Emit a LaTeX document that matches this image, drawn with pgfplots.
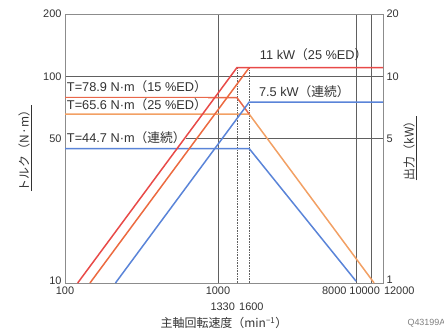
\documentclass[border=0pt]{standalone}
\usepackage{pgfplots}
\pgfplotsset{compat=1.18}
\usepackage{fontspec}
\setmainfont{Liberation Sans}
\newfontfamily\cjk{Noto Sans CJK JP}
\definecolor{redA}{HTML}{E84A48}
\definecolor{redB}{HTML}{EC6A40}
\definecolor{torA}{HTML}{E9684A}
\definecolor{torB}{HTML}{F2A064}
\definecolor{blueA}{HTML}{5A84D8}
\definecolor{txt}{HTML}{333333}
\definecolor{gridc}{HTML}{606060}
\definecolor{framec}{HTML}{8C8C8C}
\newcommand{\lp}{{\cjk （}}
\newcommand{\rp}{{\cjk ）}}
\begin{document}
\begin{tikzpicture}[x=1bp,y=1bp]
\useasboundingbox (0,0) rectangle (444,332);
\begin{axis}[
  at={(65bp,49bp)}, anchor=south west,
  scale only axis, width=318bp, height=269bp,
  xmode=log, ymode=log,
  xmin=100, xmax=12000, ymin=10, ymax=200,
  axis line style={draw=framec, line width=0.6bp},
  xtick={100,1000,8000,10000,12000},
  xticklabels={100,1000,{\llap{8000\hspace{9.6bp}}},{\llap{10000\hspace{-9bp}}},{\rlap{\hspace{1bp}12000}}},
  ytick={10,50,100,200},
  yticklabels={{\raisebox{4bp}{10}},50,100,200},
  major tick length=0, minor tick length=0,
  extra x ticks={1330,1600},
  extra x tick labels={{\llap{1330\hspace{2bp}}},{\rlap{\hspace{-10bp}1600}}},
  extra x tick style={xticklabel style={yshift=-16bp}, grid=none},
  grid=major,
  major grid style={draw=gridc, line width=0.5bp},
  tick label style={font=\fontsize{11}{12}\selectfont, text=txt},
  xlabel={主軸回転速度\lp min\textsuperscript{−1}\rp},
  xlabel style={font=\cjk\fontsize{12}{14}\selectfont, text=txt, at={(rel axis cs:0.5,0)}, anchor=center, yshift=-40bp},
  clip=true,
]
% dotted reference lines
\addplot[draw=gridc, line width=0.6bp, densely dotted] coordinates {(1330,10) (1330,110)};
\addplot[draw=gridc, line width=0.6bp, densely dotted] coordinates {(1600,10) (1600,110)};
% torque curves
\addplot[draw=blueA, line width=1.5bp] coordinates {(100,44.7) (1600,44.7) (8000,10.2)};
\addplot[draw=torB, line width=1.5bp] coordinates {(100,65.6) (1600,65.6) (10496,10)};
\addplot[draw=torA, line width=1.5bp] coordinates {(100,78.9) (1330,78.9) (1600,65.6)};
% labels
\node[anchor=west, fill=white, inner sep=0.8bp, text=txt, font=\fontsize{12.8}{14}\selectfont] at (rel axis cs:0.003,0.729) {T=78.9 N·m\lp 15 \%ED\rp};
\node[anchor=west, fill=white, inner sep=0.8bp, text=txt, font=\fontsize{12.8}{14}\selectfont] at (rel axis cs:0.003,0.662) {T=65.6 N·m\lp 25 \%ED\rp};
\node[anchor=west, fill=white, inner sep=0.8bp, text=txt, font=\fontsize{12.8}{14}\selectfont] at (rel axis cs:0.003,0.539) {T=44.7 N·m\lp{\cjk 連続}\rp};
\node[anchor=west, inner sep=0.8bp, text=txt, font=\fontsize{12.8}{14}\selectfont] at (rel axis cs:0.61,0.848) {11 kW\lp 25 \%ED\rp};
\node[anchor=west, inner sep=0.8bp, text=txt, font=\fontsize{12.8}{14}\selectfont] at (rel axis cs:0.607,0.71) {7.5 kW\lp{\cjk 連続}\rp};
\end{axis}
\begin{axis}[
  at={(65bp,49bp)}, anchor=south west,
  scale only axis, width=318bp, height=269bp,
  xmode=log, ymode=log,
  xmin=100, xmax=12000, ymin=1, ymax=20,
  axis x line=none, axis y line*=right,
  axis line style={draw=framec, line width=0.6bp},
  ytick={1,5,10,20},
  yticklabels={{\raisebox{6bp}{1}},5,10,20},
  major tick length=0, minor tick length=0,
  tick label style={font=\fontsize{11}{12}\selectfont, text=txt},
  clip=true,
]
\addplot[draw=blueA, line width=1.5bp] coordinates {(213.7,1) (1600,7.5) (12000,7.5)};
\addplot[draw=redB, line width=1.5bp] coordinates {(145.6,1) (1600,11)};
\addplot[draw=redA, line width=1.5bp] coordinates {(121,1) (1330,11) (12000,11)};
\end{axis}
\node[rotate=90, anchor=center, text=txt, font=\cjk\fontsize{12}{14}\selectfont] at (25,184) {\underline{トルク\lp N·m\rp}};
\node[rotate=90, anchor=center, text=txt, font=\cjk\fontsize{12}{14}\selectfont] at (410,184) {\underline{出力\lp kW\rp}};
\node[anchor=west, text=gray, font=\fontsize{9}{10}\selectfont] at (404,9) {Q43199A};
\end{tikzpicture}
\end{document}
